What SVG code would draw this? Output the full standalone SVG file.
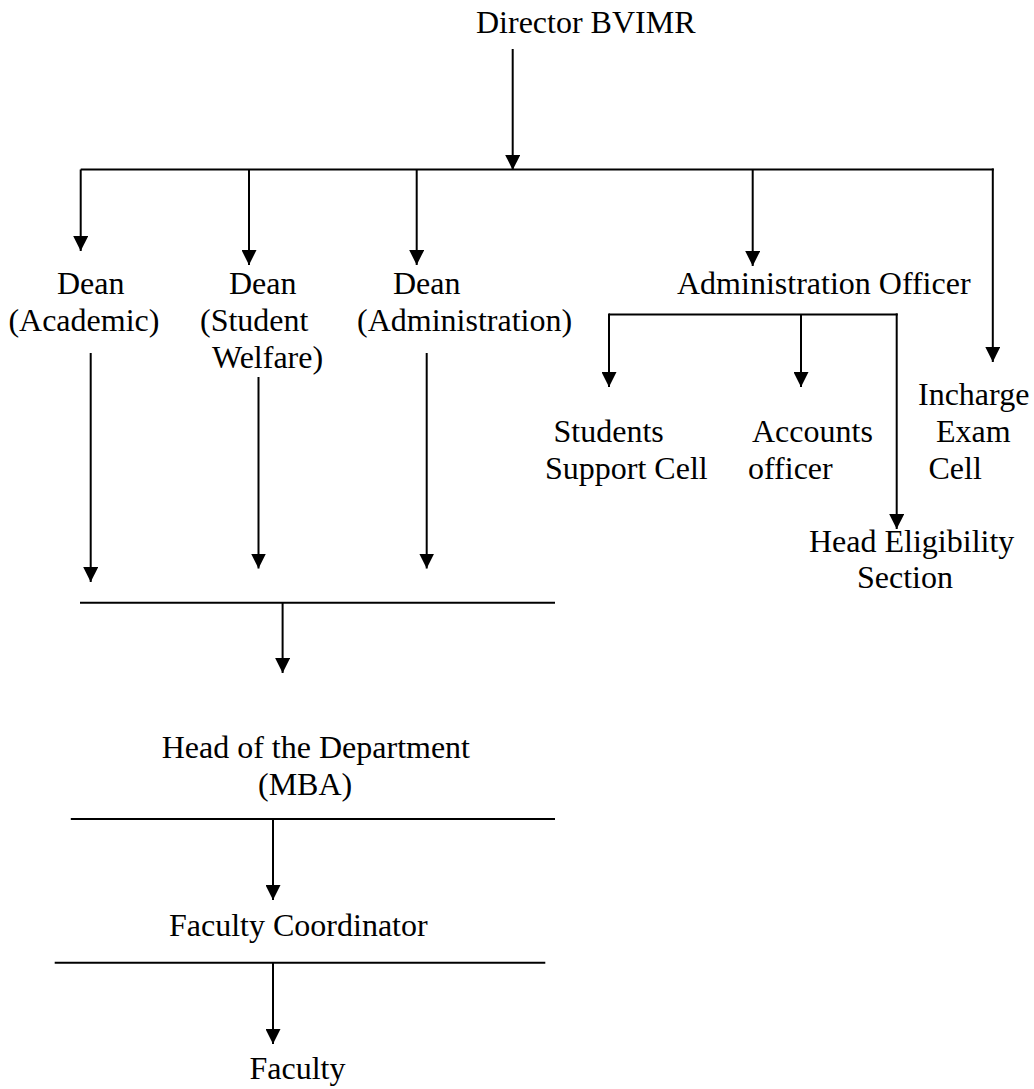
<svg xmlns="http://www.w3.org/2000/svg" width="1034" height="1089" viewBox="0 0 1034 1089">
<style>
text{font-family:"Liberation Serif","Times New Roman",serif;font-size:32px;fill:#000}
.c line{stroke:#000;stroke-width:2;fill:none}
.c line.a{marker-end:url(#ah)}
</style>
<defs>
<marker id="ah" markerUnits="userSpaceOnUse" markerWidth="15" markerHeight="15" refX="15" refY="7.5" orient="auto" viewBox="0 0 15 15">
<path d="M0,0 L15,7.5 L0,15 z" fill="#000"/>
</marker>
</defs>
<rect width="1034" height="1089" fill="#fff"/>
<g class="c" id="connectors">
<line class="a" x1="512.7" y1="49" x2="512.7" y2="170"/>
<line x1="80.7" y1="169.5" x2="993.8" y2="169.5"/>
<line class="a" x1="80.7" y1="169.5" x2="80.7" y2="251"/>
<line class="a" x1="249" y1="169.5" x2="249" y2="265"/>
<line class="a" x1="416.7" y1="169.5" x2="416.7" y2="265"/>
<line class="a" x1="752.7" y1="169.5" x2="752.7" y2="266"/>
<line class="a" x1="992.8" y1="168.5" x2="992.8" y2="362"/>
<line x1="609" y1="314.4" x2="897.7" y2="314.4"/>
<line class="a" x1="609" y1="313.4" x2="609" y2="387"/>
<line class="a" x1="801" y1="314.4" x2="801" y2="387"/>
<line class="a" x1="896.7" y1="313.4" x2="896.7" y2="529"/>
<line class="a" x1="90.7" y1="353" x2="90.7" y2="582"/>
<line class="a" x1="258.5" y1="377" x2="258.5" y2="568.5"/>
<line class="a" x1="426.7" y1="353" x2="426.7" y2="568.5"/>
<line x1="80" y1="602.7" x2="555" y2="602.7"/>
<line class="a" x1="282.6" y1="602.7" x2="282.6" y2="673"/>
<line x1="70.8" y1="819" x2="555" y2="819"/>
<line class="a" x1="273" y1="819" x2="273" y2="900"/>
<line x1="54.7" y1="962.8" x2="545.3" y2="962.8"/>
<line class="a" x1="273" y1="962.8" x2="273" y2="1044"/>
</g>
<g id="director"><text x="476" y="33">Director BVIMR</text></g>
<g id="dean-academic"><text x="57" y="294">Dean</text><text x="8.4" y="331">(Academic)</text></g>
<g id="dean-student-welfare"><text x="229" y="294">Dean</text><text x="200" y="331">(Student</text><text x="212" y="368">Welfare)</text></g>
<g id="dean-administration"><text x="393" y="294">Dean</text><text x="357" y="331">(Administration)</text></g>
<g id="administration-officer"><text x="677" y="294">Administration Officer</text></g>
<g id="students-support-cell"><text x="553.5" y="442">Students</text><text x="545" y="479">Support Cell</text></g>
<g id="accounts-officer"><text x="752" y="442">Accounts</text><text x="748" y="479">officer</text></g>
<g id="incharge-exam-cell"><text x="918" y="405">Incharge</text><text x="936" y="442">Exam</text><text x="928.5" y="478.5">Cell</text></g>
<g id="head-eligibility"><text x="809" y="551.5">Head Eligibility</text><text x="857" y="588">Section</text></g>
<g id="hod"><text x="161.7" y="758">Head of the Department</text><text x="258" y="795">(MBA)</text></g>
<g id="faculty-coordinator"><text x="169" y="936">Faculty Coordinator</text></g>
<g id="faculty"><text x="249.5" y="1079">Faculty</text></g>
</svg>
